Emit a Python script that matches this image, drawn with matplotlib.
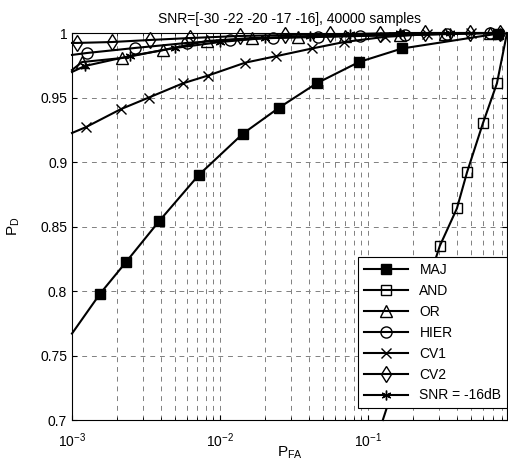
import matplotlib
matplotlib.use("Agg")
import matplotlib.pyplot as plt
from matplotlib.ticker import LogLocator, FixedLocator, NullFormatter

plt.rcParams['font.family'] = ['Liberation Sans', 'DejaVu Sans']
plt.rcParams['mathtext.default'] = 'regular'

# values
maj_x = [1.0e-3, 1.55e-3, 2.32e-3, 3.87e-3, 7.2e-3, 0.0143, 0.025, 0.045, 0.087, 0.17, 0.755]
maj_y = [0.767, 0.798, 0.8225, 0.854, 0.890, 0.922, 0.942, 0.961, 0.9775, 0.988, 0.9995]

and_x = [0.126, 0.306, 0.399, 0.467, 0.598, 0.744, 0.87]
and_y = [0.70, 0.835, 0.864, 0.892, 0.930, 0.961, 1.0]

or_x = [1.0e-3, 1.17e-3, 2.18e-3, 4.12e-3, 8.17e-3, 0.0164, 0.0336, 0.070, 0.164, 0.331, 0.667]
or_y = [0.9713, 0.9775, 0.9806, 0.9868, 0.9938, 0.9961, 0.9969, 0.9977, 0.9984, 0.9992, 1.0]

hier_x = [1.0e-3, 1.26e-3, 2.67e-3, 5.98e-3, 0.0117, 0.0228, 0.0459, 0.0883, 0.178, 0.342, 0.667]
hier_y = [0.983, 0.9845, 0.9884, 0.9923, 0.9946, 0.9961, 0.9969, 0.9977, 0.9984, 0.9992, 1.0]

cv1_x = [1.0e-3, 1.24e-3, 2.14e-3, 3.31e-3, 5.62e-3, 8.3e-3, 0.0148, 0.0239, 0.0419, 0.0689, 0.13, 0.25, 0.5]
cv1_y = [0.9225, 0.927, 0.941, 0.950, 0.961, 0.967, 0.977, 0.982, 0.988, 0.993, 0.997, 0.999, 1.0]

cv2_x = [1.0e-3, 1.08e-3, 1.86e-3, 3.37e-3, 6.27e-3, 0.01365, 0.0275, 0.0553, 0.1205, 0.243, 0.489, 0.78]
cv2_y = [0.9923, 0.9923, 0.993, 0.9946, 0.9961, 0.9977, 0.9984, 0.9992, 0.9992, 1.0, 1.0, 1.0]

snr_x = [1.0e-3, 1.22e-3, 2.47e-3, 4.97e-3, 0.01, 0.0201, 0.0406, 0.0755, 0.164, 0.358, 0.78]
snr_y = [0.9698, 0.9744, 0.9822, 0.9884, 0.993, 0.9961, 0.9977, 0.9992, 1.0, 1.0, 1.0]

yticks = [0.7, 0.75, 0.8, 0.85, 0.9, 0.95, 1.0]
ytick_labels = ['0.7', '0.75', '0.8', '0.85', '0.9', '0.95', '1']

fig = plt.figure(figsize=(5.08, 4.65), dpi=100)
ax = fig.add_axes([72 / 508, 45 / 465, 435 / 508, 387 / 465])

common = dict(color='black', lw=1.5, ms=7, clip_on=False)
ax.plot(maj_x, maj_y, marker='s', mfc='black', markevery=list(range(1, len(maj_x))), label='MAJ', **common)
ax.plot(and_x, and_y, marker='s', mfc='none', markevery=list(range(1, len(and_x) - 1)), label='AND', **common)
ax.plot(or_x, or_y, marker='^', mfc='none', ms=8, markevery=list(range(1, len(or_x))), label='OR',
        color='black', lw=1.5, clip_on=False)
ax.plot(hier_x, hier_y, marker='o', mfc='none', ms=8, markevery=list(range(1, len(hier_x))), label='HIER',
        color='black', lw=1.5, clip_on=False)
ax.plot(cv1_x, cv1_y, marker='x', markevery=list(range(1, len(cv1_x))), label='CV1', **common)
ax.plot(cv2_x, cv2_y, marker='d', mfc='none', ms=8, markevery=list(range(1, len(cv2_x))), label='CV2',
        color='black', lw=1.5, clip_on=False)
ax.plot(snr_x, snr_y, marker=(6, 2, 0), markevery=list(range(1, len(snr_x))), label='SNR = -16dB', **common)

ax.set_xscale('log')
ax.set_xlim(1e-3, 0.87)
ax.set_ylim(0.7, 1.0)
ax.xaxis.set_major_locator(LogLocator(base=10, numticks=10))
ax.xaxis.set_minor_locator(LogLocator(base=10, subs=range(2, 10), numticks=20))
ax.xaxis.set_minor_formatter(NullFormatter())
ax.yaxis.set_major_locator(FixedLocator(yticks))
ax.set_yticklabels(ytick_labels)

ax.grid(True, which='major', color='0.5', linestyle=(0, (5, 5)), lw=0.7)
ax.grid(True, which='minor', axis='x', color='0.5', linestyle=(0, (5, 5)), lw=0.7)
ax.tick_params(which='both', direction='in', top=True, right=True, labelsize=10)
ax.tick_params(axis='x', pad=8)

ax.set_title('SNR=[-30 -22 -20 -17 -16], 40000 samples', fontsize=10, pad=7)
ax.set_xlabel('P$_{FA}$', fontsize=11)
ax.set_ylabel('P$_D$', fontsize=11)
ax.xaxis.set_label_coords(0.5, -0.063)
ax.yaxis.set_label_coords(-0.115, 0.5)

leg = ax.legend(loc='lower right', bbox_to_anchor=(1.0, 0.031), borderaxespad=0,
                fancybox=False, edgecolor='black', framealpha=1, fontsize=10,
                handlelength=3.2, labelspacing=0.5, borderpad=0.4)
leg.get_frame().set_linewidth(0.8)

fig.savefig('out.png', dpi=100)
